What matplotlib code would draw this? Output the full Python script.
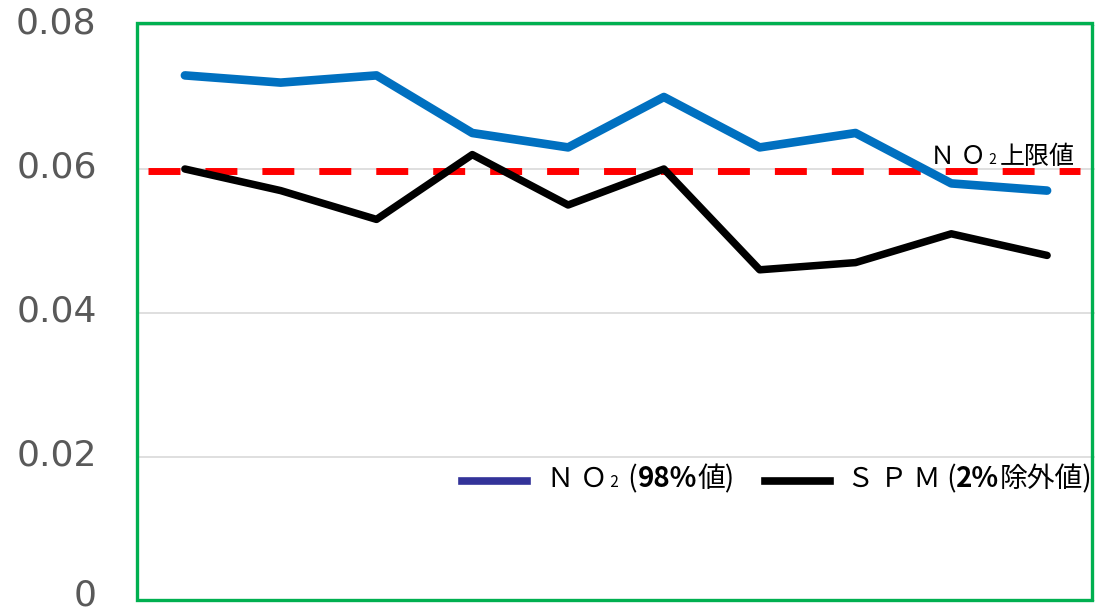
import matplotlib
matplotlib.use('Agg')
import matplotlib.pyplot as plt
import matplotlib.transforms as mtransforms
from matplotlib.offsetbox import HPacker, TextArea, AnchoredOffsetbox
from matplotlib.lines import Line2D
from matplotlib.patches import Rectangle

# ---- data ----
categories = list(range(10))  # unlabeled categories
no2 = [0.073, 0.072, 0.073, 0.065, 0.063, 0.070, 0.063, 0.065, 0.058, 0.057]
spm = [0.060, 0.057, 0.053, 0.062, 0.055, 0.060, 0.046, 0.047, 0.051, 0.048]
no2_limit = 0.0597
yticks = [0, 0.02, 0.04, 0.06, 0.08]
ytick_labels = ['0', '0.02', '0.04', '0.06', '0.08']

W, H = 1107, 610
CJK = ['Noto Sans CJK JP', 'DejaVu Sans']

fig = plt.figure(figsize=(W / 100, H / 100), dpi=100)
ax = fig.add_axes([137 / W, 1 - 601 / H, 958 / W, 576 / H])
ax.set_xlim(-0.5, len(categories) - 0.5)
ax.set_ylim(0, 0.08)
ax.set_xticks([])
ax.set_yticks(yticks)
ax.set_yticklabels(ytick_labels, fontsize=26, color='#595959')
ax.tick_params(axis='y', length=0, pad=29)
for lab in ax.get_yticklabels():
    dy = 9 if lab.get_text() == '0' else 4.5
    shift = mtransforms.ScaledTranslation(0, dy / 100, fig.dpi_scale_trans)
    lab.set_transform(lab.get_transform() + shift)
ax.yaxis.grid(True, color='#D9D9D9', lw=1.2)
ax.set_axisbelow(True)
for s in ax.spines.values():
    s.set_visible(False)

# limit line
ax.plot([-0.39, 9.34], [no2_limit, no2_limit], color='#FF0000', lw=5,
        dashes=(4.6, 3.6), zorder=2)
# series
ax.plot(categories, no2, color='#0070C0', lw=6.2, solid_capstyle='round',
        solid_joinstyle='round', zorder=3)
ax.plot(categories, spm, color='#000000', lw=5.4, solid_capstyle='round',
        solid_joinstyle='round', zorder=3)

# green border
fig.patches.append(Rectangle((137 / W, 1 - 600 / H), 955 / W, 577 / H,
                             transform=fig.transFigure, fill=False,
                             edgecolor='#00B050', lw=2.4, zorder=10))

def packed(parts, x, y):
    boxes = []
    for txt, size, weight in parts:
        boxes.append(TextArea(txt, textprops=dict(fontsize=size, family=CJK,
                                                  fontweight=weight, color='black')))
    hp = HPacker(children=boxes, align='baseline', pad=0, sep=0)
    ab = AnchoredOffsetbox(loc='center left', child=hp, pad=0, borderpad=0,
                           frameon=False, bbox_to_anchor=(x / W, 1 - y / H),
                           bbox_transform=fig.transFigure)
    fig.add_artist(ab)

# limit label
packed([('Ｎ Ｏ', 18, 'normal'), (' 2 ', 10, 'normal'), ('上限値', 18, 'normal')], 930, 157)

# legend
fig.add_artist(Line2D([462 / W, 527 / W], [1 - 481 / H] * 2, transform=fig.transFigure,
                      color='#333399', lw=5.5))
fig.add_artist(Line2D([765 / W, 830 / W], [1 - 481 / H] * 2, transform=fig.transFigure,
                      color='#000000', lw=5.5))
packed([('Ｎ Ｏ', 19.5, 'normal'), (' 2 ', 11, 'normal'), (' (', 20, 'normal'),
        ('98%', 20, 'bold'), ('値)', 20, 'normal')], 547, 479)
packed([('Ｓ Ｐ Ｍ', 19.5, 'normal'), (' (', 20, 'normal'),
        ('2%', 20, 'bold'), ('除外値)', 20, 'normal')], 847, 479)

fig.savefig('out.png', dpi=100)
